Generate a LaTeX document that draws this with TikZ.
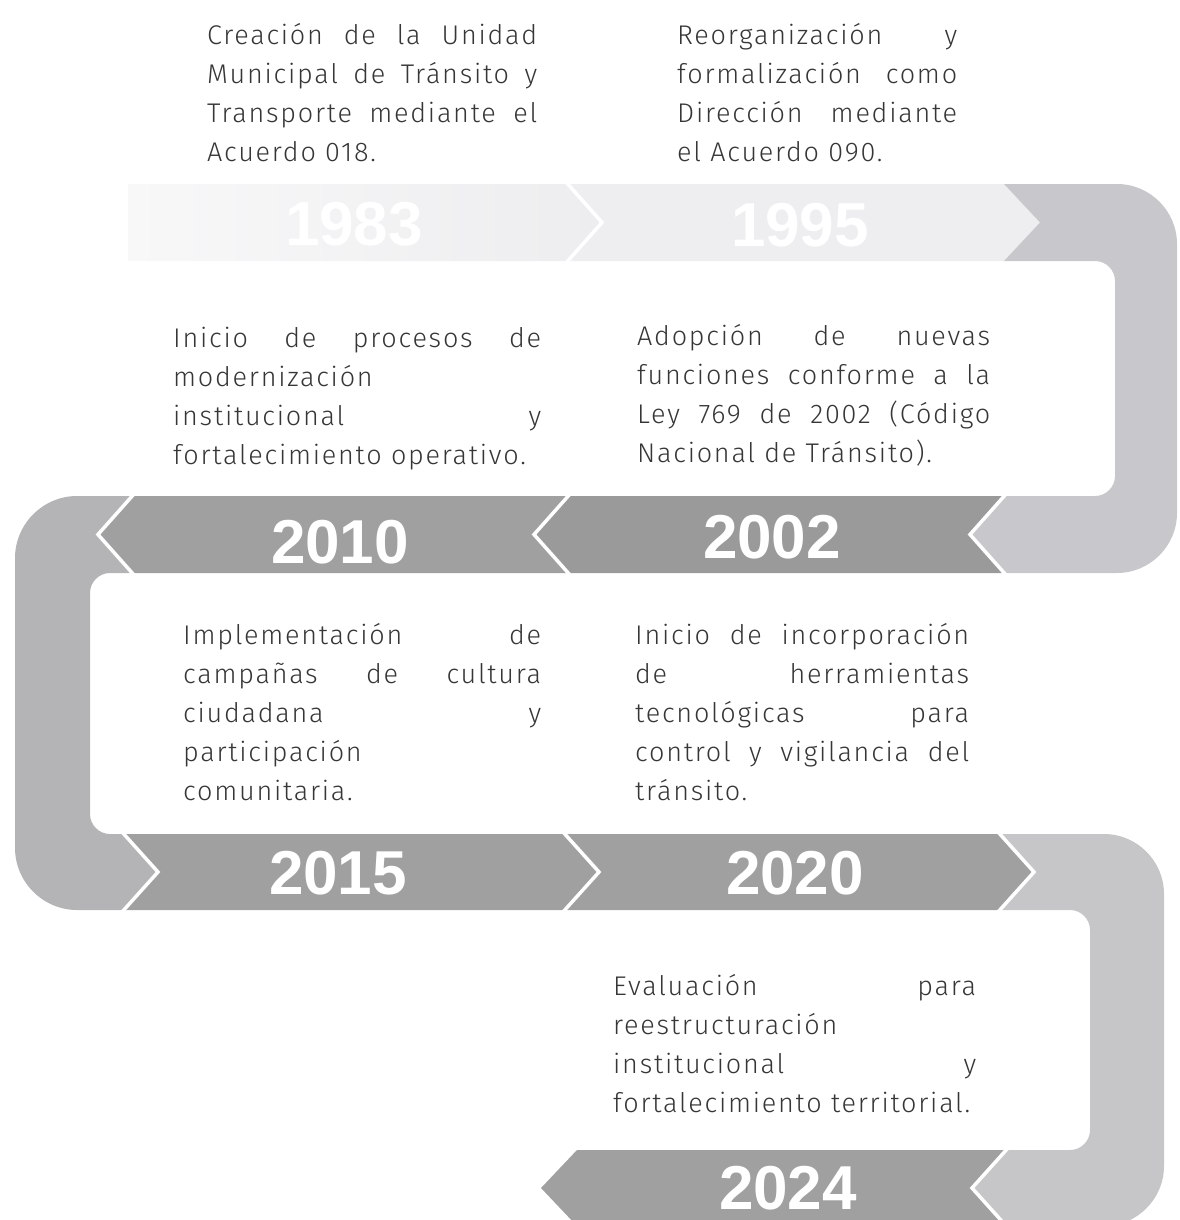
\documentclass[tikz,border=0pt]{standalone}
\usepackage{fontspec}
\setmainfont{Fira Sans Light}[LetterSpace=6.5]
\newfontfamily\yearfont{Liberation Sans}
\definecolor{segc}{HTML}{A0A0A0}
\definecolor{segd}{HTML}{9A9A9A}
\definecolor{curvea}{HTML}{C8C8CC}
\definecolor{curveb}{HTML}{B4B4B6}
\definecolor{curvec}{HTML}{C6C6C8}
\definecolor{fadeL}{HTML}{F8F8F9}
\definecolor{fadeR}{HTML}{EDEDEF}
\definecolor{faint}{HTML}{EEEEF0}
\definecolor{bodyc}{HTML}{363636}
\newcommand\jl[2]{\makebox[#1pt][s]{#2}}
\begin{document}
\begin{tikzpicture}[x=1pt,y=-1pt,
  sep/.style={draw=white,line width=3.5pt,line join=miter},
  year/.style={text=white,font=\yearfont\bfseries\fontsize{62}{62}\selectfont,inner sep=0pt},
  body/.style={anchor=north west,inner sep=0pt,align=left,text=bodyc,font=\fontsize{27}{39}\selectfont}]
\useasboundingbox (0,0) rectangle (1179,1220);
\clip (0,0) rectangle (1179,1220);
% ---------- row 1 ----------
\shade[left color=fadeL,right color=fadeR] (128,184) -- (566,184) -- (602,222.5) -- (566,261) -- (128,261) -- cycle;
\fill[faint] (566,184) -- (1004,184) -- (1040,222.5) -- (1004,261) -- (566,261) -- (602,222.5) -- cycle;
% right curve 1
\fill[curvea] (1004,184) -- (1117,184) .. controls (1150,184) and (1177,211) .. (1177,244) -- (1177,513) .. controls (1177,546) and (1150,573) .. (1117,573) -- (1006,573) -- (970,534.5) -- (1006,496) -- (1095,496) .. controls (1106,496) and (1115,487) .. (1115,476) -- (1115,281) .. controls (1115,270) and (1106,261) .. (1095,261) -- (1004,261) -- (1040,222.5) -- cycle;
% ---------- row 2 ----------
\fill[segd] (1006,496) -- (570,496) -- (534,534.5) -- (570,573) -- (1006,573) -- (970,534.5) -- cycle;
\fill[segc] (570,496) -- (134,496) -- (98,534.5) -- (134,573) -- (570,573) -- (534,534.5) -- cycle;
% left curve
\fill[curveb] (134,496) -- (77,496) .. controls (43,496) and (15,524) .. (15,558) -- (15,848) .. controls (15,882) and (43,910) .. (77,910) -- (122,910) -- (158,872) -- (122,834) -- (110,834) .. controls (99,834) and (90,825) .. (90,814) -- (90,593) .. controls (90,582) and (99,573) .. (110,573) -- (134,573) -- (98,534.5) -- cycle;
% ---------- row 3 ----------
\fill[segc] (122,834) -- (563,834) -- (599,872) -- (563,910) -- (122,910) -- (158,872) -- cycle;
\fill[segc] (563,834) -- (998,834) -- (1034,872) -- (998,910) -- (563,910) -- (599,872) -- cycle;
% right curve 2
\fill[curvec] (998,834) -- (1104,834) .. controls (1137,834) and (1164,861) .. (1164,894) -- (1164,1166) .. controls (1164,1199) and (1137,1226) .. (1104,1226) -- (1008,1226) -- (972,1188) -- (1008,1150) -- (1070,1150) .. controls (1081,1150) and (1090,1141) .. (1090,1130) -- (1090,930) .. controls (1090,919) and (1081,910) .. (1070,910) -- (998,910) -- (1034,872) -- cycle;
% ---------- row 4 ----------
\fill[segc] (1008,1150) -- (577,1150) -- (541,1188) -- (577,1226) -- (1008,1226) -- (972,1188) -- cycle;
% separators
\draw[sep] (566,182) -- (602,222.5) -- (566,263);
\draw[sep] (1006,494) -- (970,534.5) -- (1006,575);
\draw[sep] (570,494) -- (534,534.5) -- (570,575);
\draw[sep] (134,494) -- (98,534.5) -- (134,575);
\draw[sep] (122,832) -- (158,872) -- (122,912);
\draw[sep] (563,832) -- (599,872) -- (563,912);
\draw[sep] (998,832) -- (1034,872) -- (998,912);
\draw[sep] (1008,1148) -- (972,1188) -- (1008,1228);
% years
\node[year] (y1983) at (354,224) {1983};
\node[year] (y1995) at (800,225) {1995};
\node[year] (y2002) at (772,537) {2002};
\node[year] (y2010) at (340,542) {2010};
\node[year] (y2015) at (338,873) {2015};
\node[year] (y2020) at (795,873) {2020};
\node[year] (y2024) at (788,1188) {2024};
% texts
\node[body] (t1983) at (207,23) {\jl{330}{\rule{0pt}{20pt}Creación de la Unidad}\\\jl{330}{Municipal de Tránsito y}\\\jl{330}{Transporte mediante el}\\Acuerdo 018.};
\node[body] (t1995) at (677,23) {\jl{280}{\rule{0pt}{20pt}Reorganización y}\\\jl{280}{formalización como}\\\jl{280}{Dirección mediante}\\el Acuerdo 090.};
\node[body] (t2010) at (173,327) {\jl{368}{\rule{0pt}{20pt}Inicio de procesos de}\\modernización\\\jl{368}{institucional y}\\fortalecimiento operativo.};
\node[body] (t2002) at (637,324) {\jl{353}{\rule{0pt}{20pt}Adopción de nuevas}\\\jl{353}{funciones conforme a la}\\\jl{353}{Ley 769 de 2002 (Código}\\Nacional de Tránsito).};
\node[body] (t2015) at (183,623) {\jl{358}{\rule{0pt}{20pt}Implementación de}\\\jl{358}{campañas de cultura}\\\jl{358}{ciudadana y}\\participación\\comunitaria.};
\node[body] (t2020) at (635,623) {\jl{334}{\rule{0pt}{20pt}Inicio de incorporación}\\\jl{334}{de herramientas}\\\jl{334}{tecnológicas para}\\\jl{334}{control y vigilancia del}\\tránsito.};
\node[body] (t2024) at (613,974) {\jl{363}{\rule{0pt}{20pt}Evaluación para}\\reestructuración\\\jl{363}{institucional y}\\fortalecimiento territorial.};
\end{tikzpicture}
\end{document}
